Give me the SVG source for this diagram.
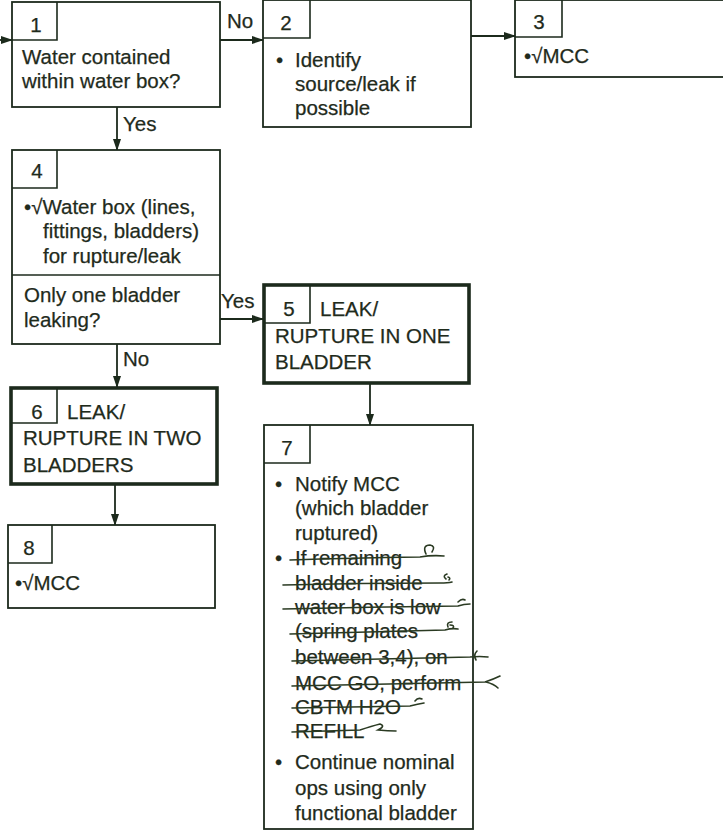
<svg xmlns="http://www.w3.org/2000/svg" width="723" height="832" viewBox="0 0 723 832">
<defs>
<marker id="ah" markerWidth="12" markerHeight="10" refX="11" refY="5" orient="auto" markerUnits="userSpaceOnUse">
<path d="M0,1 L12,5 L0,9 Z" fill="#1c2a1c"/>
</marker>
<style>
.b{fill:#fff;stroke:#1c2a1c;stroke-width:1.8}
.tb{fill:#fff;stroke:#1c2a1c;stroke-width:3.6}
.nb{fill:none;stroke:#1c2a1c;stroke-width:1.6}
.t{font-family:"Liberation Sans",Arial,sans-serif;font-size:20.5px;fill:#1f2b1c;stroke:#1f2b1c;stroke-width:0.25}
.n{font-family:"Liberation Sans",Arial,sans-serif;font-size:20.5px;fill:#1f2b1c;stroke:#1f2b1c;stroke-width:0.25;text-anchor:middle}
.c{fill:none;stroke:#1c2a1c;stroke-width:1.8}
.s{fill:none;stroke:#2a3a22;stroke-width:1.6;stroke-linecap:round}
</style>
</defs>
<rect width="723" height="832" fill="#fff"/>
<g id="connectors">
<path class="c" d="M0,40 H12" marker-end="url(#ah)"/>
<path class="c" d="M220,40 H263" marker-end="url(#ah)"/>
<path class="c" d="M471,36 H515" marker-end="url(#ah)"/>
<path class="c" d="M117,107 V150" marker-end="url(#ah)"/>
<path class="c" d="M220,319 H263" marker-end="url(#ah)"/>
<path class="c" d="M117,344 V387" marker-end="url(#ah)"/>
<path class="c" d="M115,484 V525" marker-end="url(#ah)"/>
<path class="c" d="M370,383 V425" marker-end="url(#ah)"/>
<text class="t" x="227" y="28">No</text>
<text class="t" x="123" y="131">Yes</text>
<text class="t" x="221" y="308">Yes</text>
<text class="t" x="123" y="366">No</text>
</g>
<g id="node1">
<rect class="b" x="12" y="2" width="208" height="105"/>
<path class="nb" d="M12,40 H57 V2"/>
<text class="n" x="36" y="32">1</text>
<text class="t" x="22" y="64">Water contained</text>
<text class="t" x="22" y="88">within water box?</text>
</g>
<g id="node2">
<rect class="b" x="263" y="0" width="208" height="127"/>
<path class="nb" d="M263,38 H310 V0"/>
<text class="n" x="286" y="30">2</text>
<text class="t" x="276" y="67">•</text>
<text class="t" x="295" y="67">Identify</text>
<text class="t" x="295" y="91">source/leak if</text>
<text class="t" x="295" y="115">possible</text>
</g>
<g id="node3">
<rect class="b" x="515" y="0" width="220" height="77"/>
<path class="nb" d="M515,37 H562 V0"/>
<text class="n" x="539" y="29">3</text>
<text class="t" x="524" y="63">•√MCC</text>
</g>
<g id="node4">
<rect class="b" x="12" y="150" width="208" height="194"/>
<path class="nb" d="M12,188 H57 V150"/>
<path class="nb" d="M12,275 H220"/>
<text class="n" x="37" y="178">4</text>
<text class="t" x="24" y="214">•√Water box (lines,</text>
<text class="t" x="43" y="238">fittings, bladders)</text>
<text class="t" x="43" y="263">for rupture/leak</text>
<text class="t" x="24" y="302">Only one bladder</text>
<text class="t" x="24" y="327">leaking?</text>
</g>
<g id="node5">
<rect class="tb" x="264" y="285" width="205" height="98"/>
<path class="nb" d="M264,323 H310 V285"/>
<text class="n" x="289" y="316">5</text>
<text class="t" x="320" y="316">LEAK/</text>
<text class="t" x="275" y="343">RUPTURE IN ONE</text>
<text class="t" x="275" y="369">BLADDER</text>
</g>
<g id="node6">
<rect class="tb" x="11" y="388" width="206" height="96"/>
<path class="nb" d="M11,423 H57 V388"/>
<text class="n" x="37" y="419">6</text>
<text class="t" x="67" y="419">LEAK/</text>
<text class="t" x="23" y="445">RUPTURE IN TWO</text>
<text class="t" x="23" y="472">BLADDERS</text>
</g>
<g id="node8">
<rect class="b" x="8" y="525" width="207" height="83"/>
<path class="nb" d="M8,563 H52 V525"/>
<text class="n" x="29" y="555">8</text>
<text class="t" x="15" y="590">•√MCC</text>
</g>
<g id="node7">
<rect class="b" x="264" y="425" width="209" height="404"/>
<path class="nb" d="M264,463 H310 V425"/>
<text class="n" x="287" y="455">7</text>
<text class="t" x="275" y="491">•</text>
<text class="t" x="295" y="491">Notify MCC</text>
<text class="t" x="295" y="515">(which bladder</text>
<text class="t" x="295" y="540">ruptured)</text>
<text class="t" x="275" y="565">•</text>
<text class="t" x="295" y="565">If remaining</text>
<text class="t" x="295" y="590">bladder inside</text>
<text class="t" x="295" y="614">water box is low</text>
<text class="t" x="295" y="638">(spring plates</text>
<text class="t" x="295" y="664">between 3,4), on</text>
<text class="t" x="295" y="690">MCC GO, perform</text>
<text class="t" x="295" y="714">CBTM H2O</text>
<text class="t" x="295" y="738">REFILL</text>
<text class="t" x="275" y="769">•</text>
<text class="t" x="295" y="769">Continue nominal</text>
<text class="t" x="295" y="795">ops using only</text>
<text class="t" x="295" y="820">functional bladder</text>
</g>
<g id="handwritten-strikes">
<path class="s" d="M290,560 Q350,558 420,557 Q432,555 444,556"/>
<path class="s" d="M426,554 Q422,545 430,545 Q436,546 432,552"/>
<path class="s" d="M283,585 Q360,583 440,583 Q448,583 452,582"/>
<path class="s" d="M446,579 Q442,576 447,574 M448,577 Q451,578 449,580"/>
<path class="s" d="M283,609 Q370,607 458,606 Q464,604 470,604"/>
<path class="s" d="M458,602 Q462,598 465,600"/>
<path class="s" d="M290,634 Q370,632 445,630 Q452,628 458,629"/>
<path class="s" d="M448,627 Q446,622 452,622 M450,625 Q455,625 453,628"/>
<path class="s" d="M292,661 Q380,659 470,657 Q480,656 488,657"/>
<path class="s" d="M476,660 Q473,655 477,651"/>
<path class="s" d="M292,686 Q390,684 485,682 Q494,679 500,676 M486,682 Q494,684 498,688"/>
<path class="s" d="M292,708 Q350,707 410,706 Q418,704 424,703"/>
<path class="s" d="M415,701 Q418,697 422,699"/>
<path class="s" d="M292,732 Q330,731 360,730 Q372,726 380,724 Q386,726 378,730 Q388,731 396,731"/>
</g>
</svg>
